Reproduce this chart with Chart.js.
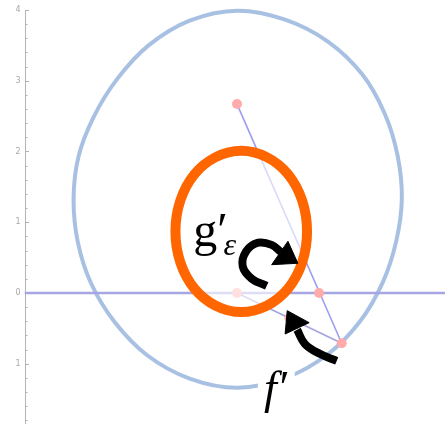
<!DOCTYPE html>
<html>
<head>
<meta charset="utf-8">
<script src="https://cdn.jsdelivr.net/npm/chart.js@4/dist/chart.umd.min.js"></script>
<style>
  html, body { margin: 0; padding: 0; background: #ffffff; }
  canvas { display: block; }
</style>
</head>
<body>
<canvas id="plot" width="445" height="424"></canvas>
<script>
// ---- data -------------------------------------------------------------
// Outer closed curve (image under f'), traced clockwise from the top.
const outerCurve = [
  [0.01, 3.99], [0.69, 3.86], [1.29, 3.55], [1.77, 3.09], [2.09, 2.53],
  [2.27, 1.94], [2.33, 1.33], [2.25, 0.73], [2.06, 0.15], [1.74, -0.40],
  [1.28, -0.87], [0.69, -1.20], [0.01, -1.34], [-0.67, -1.21], [-1.27, -0.88],
  [-1.73, -0.41], [-2.06, 0.13], [-2.25, 0.72], [-2.31, 1.33], [-2.24, 1.93],
  [-2.02, 2.50], [-1.69, 3.03], [-1.25, 3.50], [-0.67, 3.85]
];

// Inner loop (g'_ε), traced counter-clockwise from the right.
const innerLoop = [
  [0.99, 0.87], [0.92, 1.31], [0.72, 1.68], [0.42, 1.92], [0.06, 2.01],
  [-0.30, 1.92], [-0.60, 1.68], [-0.80, 1.31], [-0.87, 0.87], [-0.80, 0.43],
  [-0.60, 0.06], [-0.30, -0.18], [0.06, -0.27], [0.42, -0.18], [0.72, 0.06],
  [0.92, 0.43]
];

// Marked points.
const markers = [[0, 2.67], [0, 0], [1.16, 0], [0.74, -0.355], [1.48, -0.71]];

// Straight segments.
const baseLine = [[-3, 0], [2.94, 0]];
const chordTop = [[0, 2.67], [1.48, -0.71]];
const chordLow = [[0, 0], [1.48, -0.71]];

// Curved arrows: shaft and head.
const hookShaft = [[0.42, 0.10], [0.21, 0.20], [0.08, 0.38], [0.13, 0.59], [0.30, 0.71], [0.49, 0.68], [0.62, 0.58]];
const hookHead = [[0.86, 0.42], [0.72, 0.73], [0.49, 0.40], [0.86, 0.42]];
const lowerShaft = [[1.41, -0.96], [1.17, -0.86], [0.96, -0.72], [0.85, -0.52]];
const lowerHead = [[0.71, -0.25], [0.68, -0.58], [1.02, -0.42], [0.71, -0.25]];

// Vertical axis ticks.
const yMajorTicks = [4, 3, 2, 1, 0, -1];
const yTickLabels = ['4', '3', '2', '1', '0', '1'];
const yMinorTicks = [3.8, 3.6, 3.4, 3.2, 2.8, 2.6, 2.4, 2.2, 1.8, 1.6, 1.4, 1.2,
  0.8, 0.6, 0.4, 0.2, -0.2, -0.4, -0.6, -0.8, -1.2, -1.4, -1.6, -1.8];

// ---- helpers ----------------------------------------------------------
const toXY = pts => pts.map(([x, y]) => ({ x, y }));

// ---- plugins ----------------------------------------------------------
// Datasets flagged `closed` are drawn as a smooth closed loop (as radar lines are).
const closedLoopPlugin = {
  id: 'closedLoop',
  afterDatasetUpdate(chart, args) {
    const ds = chart.data.datasets[args.index];
    const line = args.meta.dataset;
    if (!ds.closed || !line) return;
    line._loop = true;
    line._fullLoop = true;
    line._pointsUpdated = false;
    delete line._segments;
    delete line._path;
  }
};

const axisPlugin = {
  id: 'leftAxis',
  beforeDatasetsDraw(chart) {
    const { ctx, scales: { x, y } } = chart;
    const ax = Math.round(x.getPixelForValue(-3)) + 0.5;
    ctx.save();
    ctx.strokeStyle = '#b4b4b4';
    ctx.lineWidth = 1;
    ctx.beginPath();
    ctx.moveTo(ax, y.getPixelForValue(4));
    ctx.lineTo(ax, chart.chartArea.bottom);
    yMajorTicks.forEach(v => {
      const py = Math.round(y.getPixelForValue(v)) + 0.5;
      ctx.moveTo(ax, py); ctx.lineTo(ax + 3.5, py);
    });
    yMinorTicks.forEach(v => {
      const py = Math.round(y.getPixelForValue(v)) + 0.5;
      ctx.moveTo(ax, py); ctx.lineTo(ax + 2, py);
    });
    ctx.stroke();
    ctx.fillStyle = '#a8a8a8';
    ctx.font = '8px "DejaVu Sans"';
    ctx.textAlign = 'right';
    ctx.textBaseline = 'middle';
    yMajorTicks.forEach((v, i) => {
      ctx.fillText(yTickLabels[i], ax - 5, y.getPixelForValue(v));
    });
    ctx.restore();
  }
};

const labelPlugin = {
  id: 'mathLabels',
  afterDatasetsDraw(chart) {
    const { ctx, scales: { x, y } } = chart;
    ctx.save();
    ctx.textBaseline = 'alphabetic';
    ctx.textAlign = 'left';
    ctx.fillStyle = '#000000';

    // g'_ε inside the loop
    ctx.font = '48px "Liberation Serif"';
    ctx.fillText('g′', x.getPixelForValue(-0.62), y.getPixelForValue(0.66));
    ctx.font = 'italic 32px "Liberation Serif"';
    ctx.fillText('ε', x.getPixelForValue(-0.19), y.getPixelForValue(0.54));

    // f' below, on a white plate over the outer curve
    const fx = x.getPixelForValue(0.38), fy = y.getPixelForValue(-1.55);
    ctx.font = 'italic 46px "Liberation Serif"';
    const w = ctx.measureText('f′').width;
    ctx.fillStyle = '#ffffff';
    ctx.fillRect(fx - 6, fy - 38, w + 14, 52);
    ctx.fillStyle = '#000000';
    ctx.fillText('f′', fx, fy);
    ctx.restore();
  }
};

// ---- chart ------------------------------------------------------------
const lineSet = (data, extra) => Object.assign({
  data, pointRadius: 0, pointHoverRadius: 0, fill: false, tension: 0
}, extra);

new Chart(document.getElementById('plot'), {
  type: 'line',
  data: {
    datasets: [
      lineSet(toXY(lowerShaft), { borderColor: '#000', borderWidth: 8, tension: 0.4, borderCapStyle: 'butt', order: 0 }),
      lineSet(toXY(lowerHead), { borderColor: '#000', backgroundColor: '#000', borderWidth: 1, fill: 'shape', order: 0 }),
      lineSet(toXY(hookShaft), { borderColor: '#000', borderWidth: 8, tension: 0.4, borderCapStyle: 'butt', order: 0 }),
      lineSet(toXY(hookHead), { borderColor: '#000', backgroundColor: '#000', borderWidth: 1, fill: 'shape', order: 0 }),
      lineSet(toXY(innerLoop), { closed: true, borderColor: '#ff6600', backgroundColor: 'rgba(255,255,255,0.62)', borderWidth: 10, tension: 0.34, fill: 'shape', order: 1 }),
      { data: toXY(markers), showLine: false, pointRadius: 5, pointBorderWidth: 0, pointBackgroundColor: '#ffabab', pointBorderColor: '#ffabab', order: 2 },
      lineSet(toXY(chordTop), { borderColor: '#9d9df2', borderWidth: 1.6, order: 3 }),
      lineSet(toXY(chordLow), { borderColor: '#a3a3e0', borderWidth: 1.6, order: 3 }),
      lineSet(toXY(baseLine), { borderColor: '#a6a6e4', borderWidth: 2.6, order: 3 }),
      lineSet(toXY(outerCurve), { closed: true, borderColor: '#a8c1e3', borderWidth: 4, tension: 0.33, order: 4 })
    ]
  },
  options: {
    responsive: false,
    devicePixelRatio: 1,
    animation: false,
    events: [],
    layout: { padding: 0, autoPadding: false },
    plugins: { legend: { display: false }, tooltip: { enabled: false } },
    scales: {
      x: { type: 'linear', display: false, min: -3.35, max: 2.94 },
      y: { type: 'linear', display: false, min: -1.852, max: 4.141 }
    }
  },
  plugins: [closedLoopPlugin, axisPlugin, labelPlugin]
});
</script>
</body>
</html>
